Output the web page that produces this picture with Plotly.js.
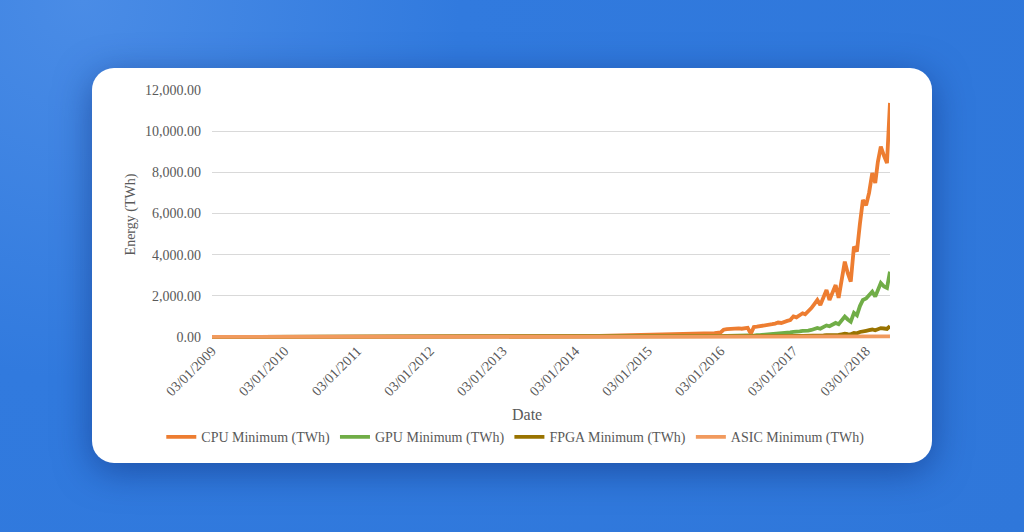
<!DOCTYPE html>
<html>
<head>
<meta charset="utf-8">
<script src="https://cdn.plot.ly/plotly-3.0.1.min.js"></script>
<style>
  html, body { margin: 0; padding: 0; width: 1024px; height: 532px; overflow: hidden; }
  body { background: radial-gradient(circle at 8% 0%, #4a8ce6 0%, #317ade 35%, #2f77da 100%); position: relative; }
  #card { position: absolute; left: 92px; top: 68px; width: 840px; height: 395px; background: #ffffff; border-radius: 22px; box-shadow: 0 8px 36px rgba(12, 45, 120, 0.55); }
  #chart { position: absolute; left: 0; top: 0; width: 1024px; height: 532px; }
</style>
</head>
<body>
<div id="card"></div>
<div id="chart"></div>
<script>
// Dates (quarterly 2009-2013, monthly 2014-2015, semi-monthly 2016 onward)
const dates = [
  '2009-01-03','2009-04-03','2009-07-03','2009-10-03',
  '2010-01-03','2010-04-03','2010-07-03','2010-10-03',
  '2011-01-03','2011-04-03','2011-07-03','2011-10-03',
  '2012-01-03','2012-04-03','2012-07-03','2012-10-03',
  '2013-01-03','2013-04-03','2013-07-03','2013-10-03',
  '2014-01-03','2014-02-03','2014-03-03','2014-04-03','2014-05-03','2014-06-03',
  '2014-07-03','2014-08-03','2014-09-03','2014-10-03','2014-11-03','2014-12-03',
  '2015-01-03','2015-02-03','2015-03-03','2015-04-03','2015-05-03','2015-06-03',
  '2015-07-03','2015-08-03','2015-09-03','2015-10-03','2015-11-03','2015-12-03',
  '2016-01-03','2016-01-18','2016-02-03','2016-02-18','2016-03-03','2016-03-18',
  '2016-04-03','2016-04-18','2016-05-03','2016-05-18','2016-06-03','2016-06-18',
  '2016-07-03','2016-07-18','2016-08-03','2016-08-18','2016-09-03','2016-09-18',
  '2016-10-03','2016-10-18','2016-11-03','2016-11-18','2016-12-03','2016-12-18',
  '2017-01-03','2017-01-18','2017-02-03','2017-02-18','2017-03-03','2017-03-18',
  '2017-04-03','2017-04-18','2017-05-03','2017-05-18','2017-06-03','2017-06-18',
  '2017-07-03','2017-07-18','2017-08-03','2017-08-18','2017-09-03','2017-09-18',
  '2017-10-03','2017-10-18','2017-11-03','2017-11-18','2017-12-03','2017-12-18',
  '2018-01-03','2018-01-18','2018-02-03','2018-02-18','2018-03-03','2018-03-18',
  '2018-04-03','2018-04-18','2018-05-03'
];

const cpuMin = [
  0,0,0,0, 0,0,0,0, 0,0,0,0, 0,1,1,2, 4,6,12,22,
  30,35,40,45,50,55,60,70,80,90,100,110,
  110,115,120,120,125,130,130,135,140,150,165,185,
  220,350,380,400,390,410,420,400,430,440,150,480,500,520,550,540,600,620,650,700,680,750,780,820,
  1000,950,1080,1150,1100,1230,1400,1600,1800,1550,1900,2280,1800,2200,2520,1900,2800,3660,3100,2690,4390,4150,5500,6650,
  6400,7000,7970,7480,8500,9250,8800,8450,11370
];

const gpuMin = [
  0,0,0,0, 0,0,0,0, 0,0,0,0, 0,0,0,0, 0,1,2,3,
  4,5,6,7,8,9,10,11,12,14,16,18,
  18,19,20,20,21,22,23,24,25,27,30,35,
  40,45,50,55,55,60,60,65,70,70,40,80,85,90,100,110,120,130,140,150,160,180,200,220,
  250,240,270,290,280,310,340,380,440,400,500,560,520,600,680,620,800,990,850,740,1170,1050,1500,1800,
  1870,2000,2200,1960,2300,2620,2450,2380,3170
];

const fpgaMin = [
  0,0,0,0, 0,0,0,0, 0,0,0,0, 0,0,0,0, 0,0,0,1,
  1,1,1,2,2,2,2,2,3,3,3,4,
  4,4,4,4,4,5,5,5,5,5,6,7,
  8,9,10,10,10,11,11,12,12,13,8,14,15,16,17,19,20,22,24,26,28,30,34,38,
  42,40,45,48,47,52,57,63,72,68,80,92,85,98,110,100,130,160,140,125,190,175,240,290,
  300,330,360,320,380,430,410,390,530
];

const asicMin = [
  0,0,0,0, 0,0,0,0, 0,0,0,0, 0,0,0,0, 0,0,0,0,
  0,0,0,0,0,0,0,0,0,0,0,0,
  0,0,0,0,0,0,0,0,0,0,0,0,
  0.5,0.6,0.6,0.7,0.7,0.7,0.8,0.8,0.8,0.9,0.5,0.9,1,1,1.1,1.1,1.2,1.3,1.3,1.4,1.4,1.5,1.6,1.7,
  2,2,2.1,2.2,2.2,2.4,2.6,2.9,3.3,3,3.6,4.2,3.8,4.4,5,4.6,6,7.3,6.4,5.6,8.7,8.2,11,13,
  13,14,16,15,17,19,18,17,23
];

const seriesNames = ['CPU Minimum (TWh)', 'GPU Minimum (TWh)', 'FPGA Minimum (TWh)', 'ASIC Minimum (TWh)'];
const seriesColors = ['#ED7D31', '#70AD47', '#997300', '#F19A5E'];

const tickDates = ['2009-01-03','2010-01-03','2011-01-03','2012-01-03','2013-01-03',
                   '2014-01-03','2015-01-03','2016-01-03','2017-01-03','2018-01-03'];
const tickLabels = ['03/01/2009','03/01/2010','03/01/2011','03/01/2012','03/01/2013',
                    '03/01/2014','03/01/2015','03/01/2016','03/01/2017','03/01/2018'];
const yTicks = [0, 2000, 4000, 6000, 8000, 10000, 12000];

const values = [cpuMin, gpuMin, fpgaMin, asicMin];
const traces = values.map((v, i) => ({
  x: dates, y: v, type: 'scatter', mode: 'lines', name: seriesNames[i],
  line: { color: seriesColors[i], width: 3.8 }
}));

const FAM = 'Liberation Serif, Times New Roman, Times, DejaVu Serif, serif';
const GREY = '#595959';

const layout = {
  width: 1024, height: 532,
  margin: { l: 100, r: 100, t: 90, b: 193 },
  paper_bgcolor: 'rgba(0,0,0,0)', plot_bgcolor: 'rgba(0,0,0,0)',
  font: { family: FAM, color: GREY, size: 14 },
  showlegend: true,
  legend: {
    orientation: 'h', x: 0.504, xanchor: 'center', y: -0.395, yanchor: 'middle',
    font: { family: FAM, color: GREY, size: 14 }, itemwidth: 30,
    bgcolor: 'rgba(0,0,0,0)'
  },
  xaxis: {
    type: 'date', range: [dates[0], dates[dates.length - 1]],
    domain: [0.1359, 0.9587],
    tickmode: 'array', tickvals: tickDates, ticktext: tickLabels, tickangle: -45,
    showgrid: false, zeroline: false, showline: false, ticks: '',
    tickfont: { family: FAM, color: GREY, size: 14 },
    automargin: false
  },
  yaxis: {
    range: [-100, 12000], tickmode: 'array', tickvals: yTicks, tickformat: ',.2f',
    showgrid: true, gridcolor: '#d9d9d9', gridwidth: 1, zeroline: false, showline: false, ticks: '',
    ticklabelstandoff: 10,
    tickfont: { family: FAM, color: GREY, size: 14 },
    title: { text: 'Energy (TWh)', font: { family: FAM, color: GREY, size: 14 }, standoff: 6 },
    automargin: false
  },
  annotations: [{
    text: 'Date', xref: 'paper', yref: 'paper', x: 0.518, y: -0.305,
    xanchor: 'center', yanchor: 'middle', showarrow: false,
    font: { family: FAM, color: GREY, size: 16 }
  }]
};

Plotly.newPlot('chart', traces, layout, { displayModeBar: false, staticPlot: true });
</script>
</body>
</html>
